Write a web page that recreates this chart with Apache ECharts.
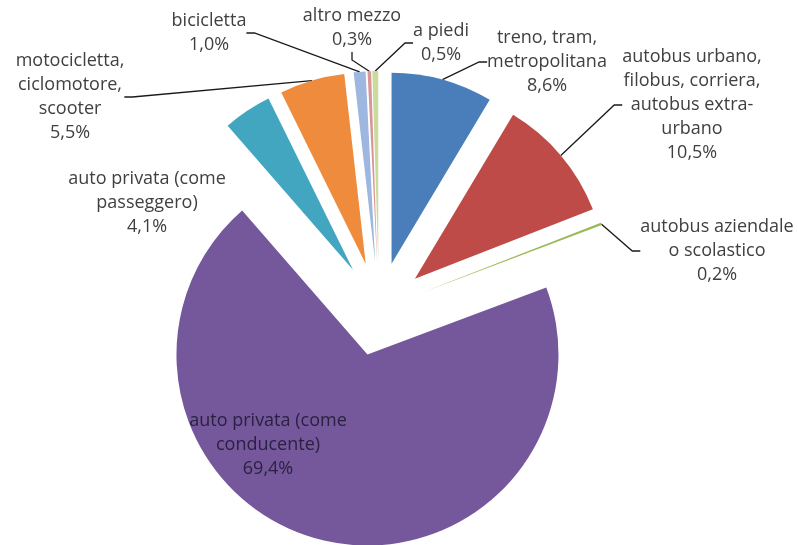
<!DOCTYPE html>
<html>
<head>
<meta charset="utf-8">
<script src="https://cdn.jsdelivr.net/npm/echarts@6/dist/echarts.min.js"></script>
<style>
  html, body { margin: 0; padding: 0; background: #fff; }
  #chart { width: 798px; height: 545px; }
</style>
</head>
<body>
<div id="chart"></div>
<script>
// mezzi di trasporto (ordine orario a partire dalle ore 12)
const categories = [
  'treno, tram,\nmetropolitana',
  'autobus urbano,\nfilobus, corriera,\nautobus extra-\nurbano',
  'autobus aziendale\no scolastico',
  'auto privata (come\nconducente)',
  'auto privata (come\npasseggero)',
  'motocicletta,\nciclomotore,\nscooter',
  'bicicletta',
  'altro mezzo',
  'a piedi',
]
const values = [8.6, 10.5, 0.2, 69.4, 4.1, 5.5, 1.0, 0.3, 0.5]
const colors = ['#4a7ebb', '#be4b48', '#98b954', '#75589b', '#42a6c0', '#ef8b3c', '#9db7e0', '#d99694', '#c9dc9e']

// posizione delle etichette (centro orizzontale, bordo superiore)
const labelPos = [
  [547, 26], [692, 45], [717, 215], [268, 409], [147, 167],
  [70, 49], [209, 9], [352, 4], [441, 19],
]

const CX = 379
const CY = 309
const R = 191
const EXPLODE = 47

const chart = echarts.init(document.getElementById('chart'))

// ogni fetta in una serie propria, spostata lungo la sua bisettrice (esploso)
const total = values.reduce((a, b) => a + b, 0)
let acc = 0
const series = values.map((v, i) => {
  const mid = (acc + v / 2) / total * 2 * Math.PI
  acc += v
  return {
    type: 'pie',
    center: [CX + EXPLODE * Math.sin(mid), CY - EXPLODE * Math.cos(mid)],
    radius: R,
    startAngle: 90,
    clockwise: true,
    avoidLabelOverlap: false,
    silent: true,
    label: {
      position: i === 3 ? 'inside' : 'outside',
      color: i === 3 ? '#2a2140' : '#404040',
      fontFamily: 'Open Sans',
      fontSize: 18,
      lineHeight: 24,
      align: 'center',
      formatter: p => p.name + '\n' + p.value.toFixed(1).replace('.', ',') + '%',
    },
    labelLine: {
      length: 8,
      length2: 8,
      smooth: false,
      lineStyle: { color: '#1a1a1a', width: 1.3 },
    },
    labelLayout: p => ({
      x: labelPos[p.dataIndex][0],
      y: labelPos[p.dataIndex][1],
      align: 'center',
      verticalAlign: 'top',
    }),
    emphasis: { disabled: true },
    data: categories.map((name, j) => ({
      name,
      value: values[j],
      itemStyle: { color: j === i ? colors[j] : 'rgba(0,0,0,0)' },
      label: { show: j === i },
      labelLine: { show: j === i && i !== 3 && i !== 4 },
    })),
  }
})

chart.setOption({
  backgroundColor: '#fff',
  animation: false,
  series,
})
</script>
</body>
</html>
